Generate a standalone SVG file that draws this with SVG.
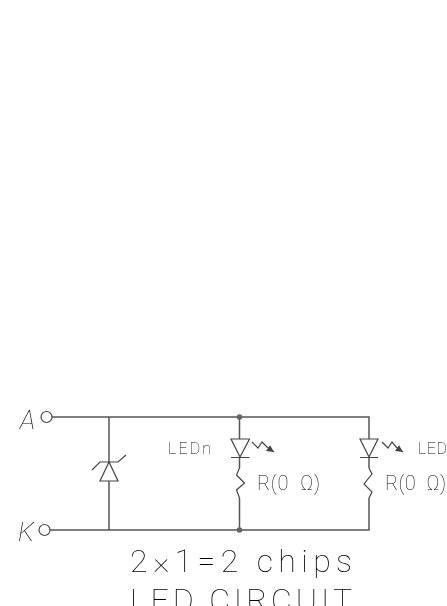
<svg xmlns="http://www.w3.org/2000/svg" width="447" height="606" viewBox="0 0 447 606">
<style>
.w{fill:none;stroke:#555;stroke-width:1.500}
.t{fill:none;stroke:#444;stroke-width:1.200}
.x{font-family:"Roboto","Liberation Sans",sans-serif;font-weight:100;fill:#000;filter:url(#g)}
</style>
<defs>
<filter id="g" x="-5%" y="-20%" width="110%" height="140%"><feOffset dx="0" dy="0"/></filter>
<marker id="a" markerWidth="7" markerHeight="6" refX="6" refY="3" orient="auto"><path d="M0 0L6 3L0 6z" fill="#444"/></marker>
</defs>
<rect width="447" height="606" fill="#fff"/>
<g id="connectors">
<path class="w" d="M52 417H369V439M369 457V468M369 498V530H50M109 417V462M109 481V530M239.500 417V439M239.500 457V468M239.500 498V530"/>
</g>
<g id="terminal-A"><circle class="t" cx="46.500" cy="417" r="5.500"/><text class="x" x="20" y="429" font-size="26" font-style="italic">A</text></g>
<g id="terminal-K"><circle class="t" cx="44.500" cy="530" r="5.500"/><text class="x" x="18" y="541" font-size="26" font-style="italic">K</text></g>
<g id="zener"><path class="t" d="M92 470L100 462H118L126 455M109 462L100 481H118Z"/></g>
<g id="led1">
<circle cx="239.500" cy="417" r="2.800" fill="#666"/><circle cx="239.500" cy="530" r="2.800" fill="#666"/>
<path class="t" d="M231 439H249.500L240 457ZM231 457.500H249.500"/>
<path class="t" marker-end="url(#a)" d="M252 442L258 448L262 442L268 448L274 452"/>
<path class="t" d="M239.500 468L236.500 475L244.500 483L236.500 490L239.500 498"/>
<text class="x" x="168" y="454" font-size="16" textLength="43">LEDn</text>
<text class="x" x="257" y="490" font-size="20" textLength="63" xml:space="preserve">R(0  Ω)</text>
</g>
<g id="led2">
<path class="t" d="M360 439H378L369 457ZM360 457.500H378"/>
<path class="t" marker-end="url(#a)" d="M382 442L388 448L392 442L397 448L403 452"/>
<path class="t" d="M369 468L372 474L364 484L372 492L369 498"/>
<text class="x" x="418" y="454" font-size="16" textLength="29">LED</text>
<text class="x" x="385" y="490" font-size="20" textLength="61" xml:space="preserve">R(0  Ω)</text>
</g>
<g id="caption">
<text class="x" x="130" y="572" font-size="32" textLength="222">2×1=2 chips</text>
<text class="x" x="130" y="611" font-size="32" textLength="222">LED CIRCUIT</text>
</g>
</svg>
